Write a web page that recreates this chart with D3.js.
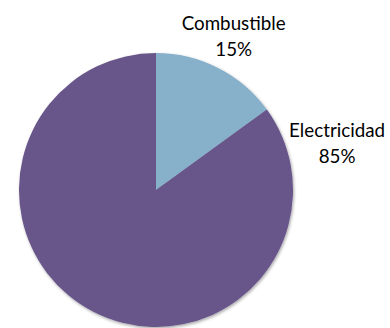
<!DOCTYPE html>
<html>
<head>
<meta charset="utf-8">
<script src="https://cdn.jsdelivr.net/npm/d3@7"></script>
<style>
  body { margin: 0; background: #fff; }
  svg { display: block; }
  text { font-family: Lato, "Open Sans", "Liberation Sans", sans-serif; fill: #000; }
</style>
</head>
<body>
<svg id="chart"></svg>
<script>
// Chart data
const categories = ["Combustible", "Electricidad"];
const values = [15, 85];
const colors = ["#87b0cb", "#675489"];

const width = 390;
const height = 328;
const cx = 156, cy = 190, radius = 137;

const svg = d3.select("#chart")
    .attr("width", width)
    .attr("height", height);

// soft shadow like the office export
const filter = svg.append("defs").append("filter").attr("id", "shadow")
    .attr("x", "-10%").attr("y", "-10%").attr("width", "120%").attr("height", "120%");
filter.append("feDropShadow")
    .attr("dx", 1).attr("dy", 1.5).attr("stdDeviation", 1.5)
    .attr("flood-color", "#000").attr("flood-opacity", 0.35);

const g = svg.append("g").attr("transform", `translate(${cx}, ${cy})`);

const pie = d3.pie().sort(null).value(d => d.value);
const arcs = pie(categories.map((c, i) => ({ name: c, value: values[i] })));
const arc = d3.arc().innerRadius(0).outerRadius(radius);

g.append("g").attr("filter", "url(#shadow)")
    .selectAll("path")
    .data(arcs)
    .enter()
    .append("path")
    .attr("d", arc)
    .attr("fill", (d, i) => colors[i]);

// Label placement (polar): angle from 12 o'clock, distance from center -> first baseline
const labelPos = [
    d => ({ a: (d.startAngle + d.endAngle) / 2 - 0.02, r: radius * 1.3 }),
    d => ({ a: d.startAngle + 0.344, r: radius * 1.377 })
];

const total = d3.sum(values);
const labels = g.selectAll(".label")
    .data(arcs)
    .enter()
    .append("text")
    .attr("class", "label")
    .attr("text-anchor", "middle")
    .style("font-size", "18px")
    .attr("transform", (d, i) => {
        const p = labelPos[i](d);
        return `translate(${p.r * Math.sin(p.a)}, ${-p.r * Math.cos(p.a)})`;
    });

labels.append("tspan").attr("class", "name").attr("x", 0).attr("y", 0).text(d => d.data.name);
labels.append("tspan").attr("x", 0).attr("y", 26)
    .text(d => Math.round(d.data.value / total * 100) + "%");

// fit the font so the category name is as wide as in the original (Calibri 14pt)
const measured = labels.select(".name").node().getComputedTextLength();
if (measured > 0) {
    labels.style("font-size", (18 * 104 / measured).toFixed(2) + "px");
}
</script>
</body>
</html>
